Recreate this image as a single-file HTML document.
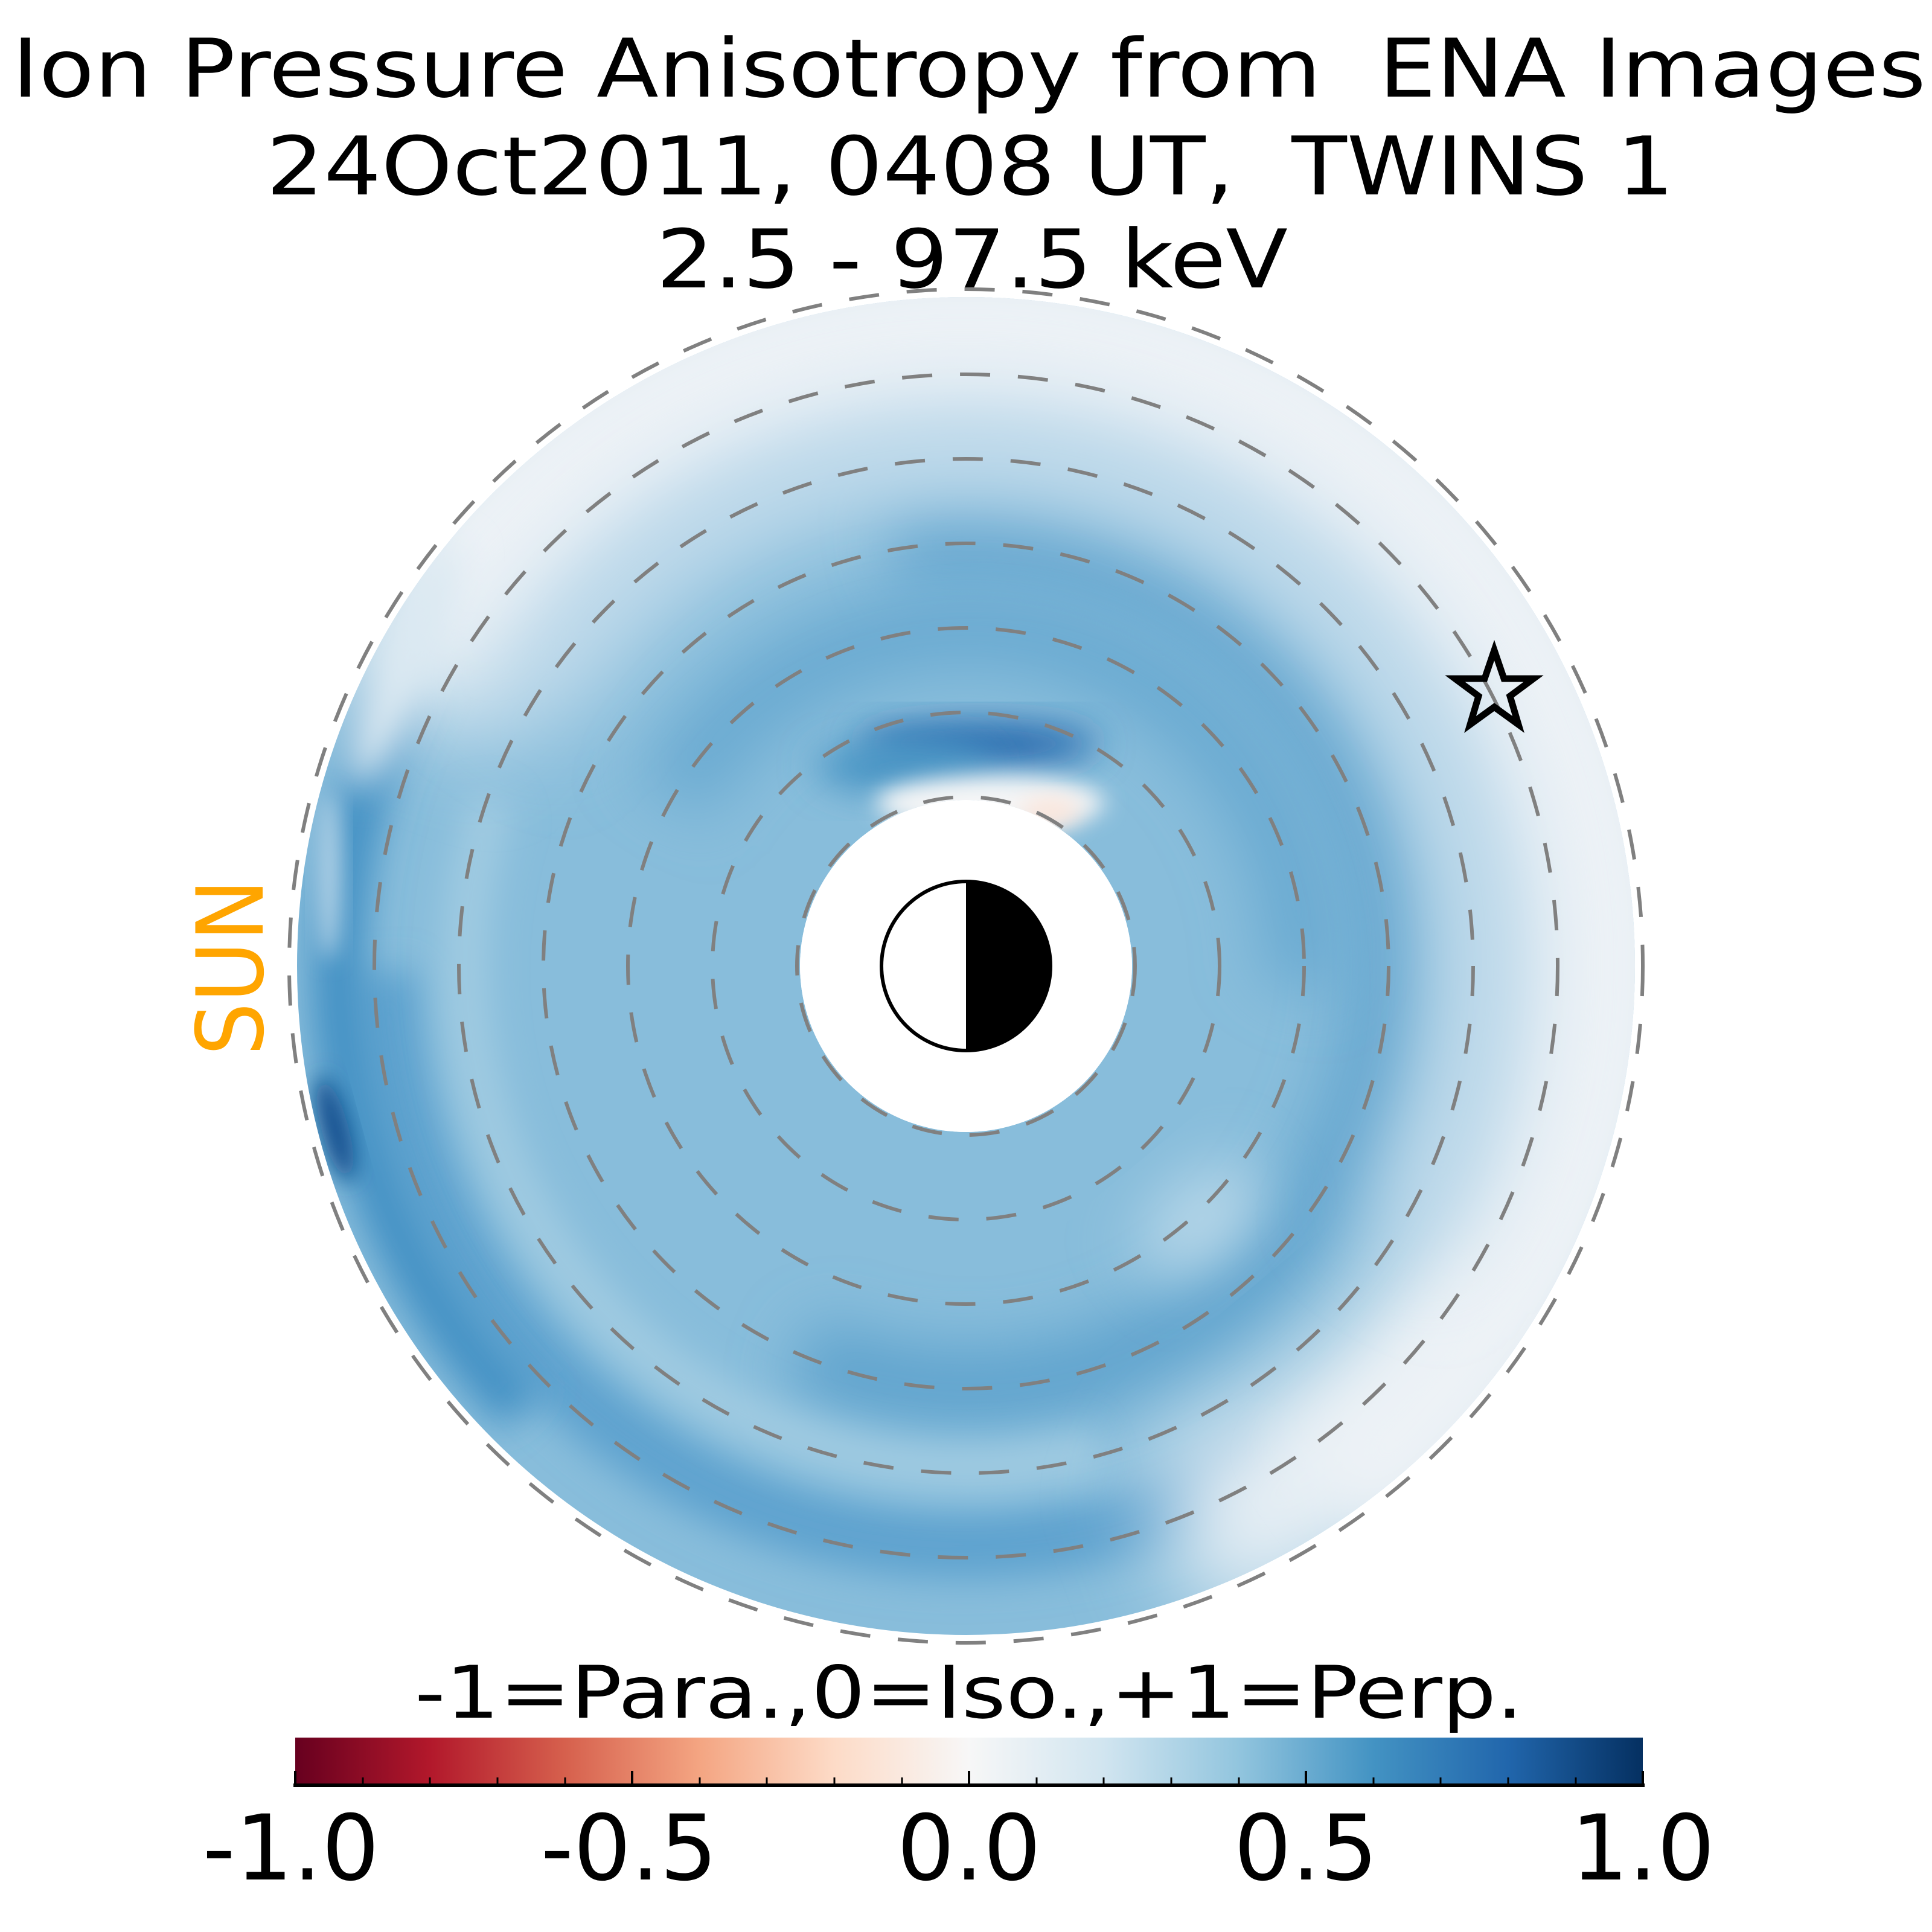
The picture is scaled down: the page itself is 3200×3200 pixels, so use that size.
<!DOCTYPE html>
<html><head><meta charset="utf-8"><style>
html,body{margin:0;padding:0;background:#fff;}
svg{display:block;}
text{font-family:"DejaVu Sans","Liberation Sans",sans-serif;}
</style></head><body>
<svg width="3200" height="3200" viewBox="0 0 3200 3200" xmlns="http://www.w3.org/2000/svg">
<defs>
  <clipPath id="ann"><path clip-rule="evenodd" d="M1600,492 a1108,1108 0 1,0 0.01,0 Z M1600,1325 a275,275 0 1,0 0.01,0 Z"/></clipPath>
  <filter id="b80" x="-50%" y="-50%" width="200%" height="200%"><feGaussianBlur stdDeviation="80"/></filter>
  <filter id="b50" x="-50%" y="-50%" width="200%" height="200%"><feGaussianBlur stdDeviation="50"/></filter>
  <filter id="b30" x="-50%" y="-50%" width="200%" height="200%"><feGaussianBlur stdDeviation="30"/></filter>
  <filter id="b18" x="-50%" y="-50%" width="200%" height="200%"><feGaussianBlur stdDeviation="18"/></filter>
  <linearGradient id="cb" x1="0" x2="1" y1="0" y2="0">
    <stop offset="0" stop-color="#67001f"/><stop offset="0.1" stop-color="#b2182b"/>
    <stop offset="0.2" stop-color="#d6604d"/><stop offset="0.3" stop-color="#f4a582"/>
    <stop offset="0.4" stop-color="#fddbc7"/><stop offset="0.5" stop-color="#f7f7f7"/>
    <stop offset="0.6" stop-color="#d1e5f0"/><stop offset="0.7" stop-color="#92c5de"/>
    <stop offset="0.8" stop-color="#4393c3"/><stop offset="0.9" stop-color="#2166ac"/>
    <stop offset="1" stop-color="#053061"/>
  </linearGradient>
</defs>

<!-- titles -->
<g fill="#000" text-anchor="middle" xml:space="preserve">
<text x="1605" y="160" font-size="134" textLength="3170" lengthAdjust="spacingAndGlyphs">Ion Pressure Anisotropy from&#160; ENA Images</text>
<text x="1607" y="322" font-size="134" textLength="2332" lengthAdjust="spacingAndGlyphs">24Oct2011, 0408 UT,&#160; TWINS 1</text>
<text x="1610" y="476" font-size="134" textLength="1046" lengthAdjust="spacingAndGlyphs">2.5 - 97.5 keV</text>
</g>

<!-- data disk -->
<g clip-path="url(#ann)">
  <rect x="400" y="400" width="2400" height="2400" fill="#88bddb"/>
  <!-- dark band right side -->
  <circle cx="1600" cy="1600" r="700" fill="none" stroke="#5ea3cd" stroke-width="130" filter="url(#b50)"
    stroke-dasharray="2600 2000" transform="rotate(-100 1600 1600)"/>
  <!-- dark band top -->
  <circle cx="1600" cy="1600" r="560" fill="none" stroke="#6aaad1" stroke-width="130" filter="url(#b50)"
    stroke-dasharray="1500 3000" transform="rotate(-150 1600 1600)"/>
  <!-- bottom-left darker band -->
  <circle cx="1600" cy="1600" r="960" fill="none" stroke="#5fa3cf" stroke-width="110" filter="url(#b30)"
    stroke-dasharray="2000 4000" transform="rotate(60 1600 1600)"/>
  <!-- lighter streak inside bottom-left -->
  <circle cx="1600" cy="1600" r="830" fill="none" stroke="#a2cce2" stroke-width="70" filter="url(#b30)"
    stroke-dasharray="1800 4000" transform="rotate(75 1600 1600)"/>
  <!-- lighter spot lower right -->
  <ellipse cx="1990" cy="2020" rx="120" ry="70" fill="#b5d6e8" filter="url(#b50)" transform="rotate(-40 1990 2020)"/>
  <!-- left edge dark band -->
  <circle cx="1600" cy="1600" r="1040" fill="none" stroke="#4592c5" stroke-width="90" filter="url(#b30)"
    stroke-dasharray="1300 6000" transform="rotate(135 1600 1600)"/>
  <ellipse cx="555" cy="1870" rx="22" ry="90" fill="#0f4a8a" filter="url(#b18)" transform="rotate(-15 555 1870)"/>
  <!-- outer light region top/right -->
  <circle cx="1600" cy="1600" r="1020" fill="none" stroke="#e9f0f5" stroke-width="300" filter="url(#b80)"
    stroke-dasharray="4000 2500" transform="rotate(-155 1600 1600)"/>
  <circle cx="1600" cy="1600" r="1060" fill="none" stroke="#edf2f6" stroke-width="200" filter="url(#b50)"
    stroke-dasharray="3700 3500" transform="rotate(-145 1600 1600)"/>
  <circle cx="1600" cy="1600" r="850" fill="none" stroke="#c3dcec" stroke-width="140" filter="url(#b80)"
    stroke-dasharray="2700 3000" transform="rotate(-150 1600 1600)"/>
  <!-- light streak upper-left edge -->
  <ellipse cx="670" cy="1100" rx="45" ry="220" fill="#dbe9f2" filter="url(#b30)" transform="rotate(22 670 1100)"/>
  <ellipse cx="545" cy="1450" rx="20" ry="140" fill="#b3d3e7" filter="url(#b18)"/>
  <!-- inner top dark arc -->
  <ellipse cx="1620" cy="1232" rx="200" ry="35" fill="#2165ab" filter="url(#b30)"/>
  <ellipse cx="1500" cy="1270" rx="150" ry="45" fill="#4a95c5" filter="url(#b30)"/>
  <!-- white/peach region above hole -->
  <ellipse cx="1640" cy="1330" rx="190" ry="45" fill="#f4f5f6" filter="url(#b18)"/>
  <ellipse cx="1740" cy="1345" rx="50" ry="25" fill="#fbe6dc" filter="url(#b18)"/>
</g>
<circle cx="1600" cy="1600" r="275" fill="#fff"/>

<!-- dashed circles -->
<g fill="none" stroke="#808080" stroke-width="6" stroke-dasharray="50 46">
  <circle cx="1600" cy="1600" r="280"/>
  <circle cx="1600" cy="1600" r="420"/>
  <circle cx="1600" cy="1600" r="560"/>
  <circle cx="1600" cy="1600" r="700"/>
  <circle cx="1600" cy="1600" r="840"/>
  <circle cx="1600" cy="1600" r="980"/>
  <circle cx="1600" cy="1600" r="1121"/>
</g>

<!-- earth -->
<circle cx="1600" cy="1600" r="140" fill="#fff"/>
<path d="M1600,1460 A140,140 0 0,1 1600,1740 Z" fill="#000"/>
<circle cx="1600" cy="1600" r="140" fill="none" stroke="#000" stroke-width="6"/>

<!-- star -->
<polygon points="2475,1077 2491,1124 2540,1124 2501,1153 2515,1200 2475,1171 2435,1200 2449,1153 2410,1124 2459,1124"
  fill="none" stroke="#000" stroke-width="11" stroke-linejoin="miter"/>

<!-- SUN -->
<text transform="translate(435,1602) rotate(-90)" text-anchor="middle" font-size="153" fill="#ffa500" textLength="293" lengthAdjust="spacingAndGlyphs">SUN</text>

<!-- colorbar -->
<text x="1605" y="2845" text-anchor="middle" font-size="120" textLength="1836" lengthAdjust="spacingAndGlyphs">-1=Para.,0=Iso.,+1=Perp.</text>
<rect x="489" y="2878" width="2232" height="77" fill="url(#cb)"/>
<line x1="486" y1="2957" x2="2724" y2="2957" stroke="#000" stroke-width="6"/>
<g stroke="#000" stroke-width="4">
  <line x1="489" y1="2955" x2="489" y2="2933"/>
  <line x1="1047" y1="2955" x2="1047" y2="2933"/>
  <line x1="1605" y1="2955" x2="1605" y2="2933"/>
  <line x1="2163" y1="2955" x2="2163" y2="2933"/>
  <line x1="2721" y1="2955" x2="2721" y2="2933"/>
</g>
<g stroke="#000" stroke-width="3">
  <line x1="601" y1="2955" x2="601" y2="2944"/><line x1="712" y1="2955" x2="712" y2="2944"/>
  <line x1="824" y1="2955" x2="824" y2="2944"/><line x1="936" y1="2955" x2="936" y2="2944"/>
  <line x1="1159" y1="2955" x2="1159" y2="2944"/><line x1="1270" y1="2955" x2="1270" y2="2944"/>
  <line x1="1382" y1="2955" x2="1382" y2="2944"/><line x1="1494" y1="2955" x2="1494" y2="2944"/>
  <line x1="1717" y1="2955" x2="1717" y2="2944"/><line x1="1828" y1="2955" x2="1828" y2="2944"/>
  <line x1="1940" y1="2955" x2="1940" y2="2944"/><line x1="2052" y1="2955" x2="2052" y2="2944"/>
  <line x1="2275" y1="2955" x2="2275" y2="2944"/><line x1="2386" y1="2955" x2="2386" y2="2944"/>
  <line x1="2498" y1="2955" x2="2498" y2="2944"/><line x1="2610" y1="2955" x2="2610" y2="2944"/>
</g>
<g text-anchor="middle" font-size="150" fill="#000">
  <text x="482" y="3113">-1.0</text>
  <text x="1042" y="3113">-0.5</text>
  <text x="1605" y="3113">0.0</text>
  <text x="2163" y="3113">0.5</text>
  <text x="2721" y="3113">1.0</text>
</g>
</svg>
</body></html>
